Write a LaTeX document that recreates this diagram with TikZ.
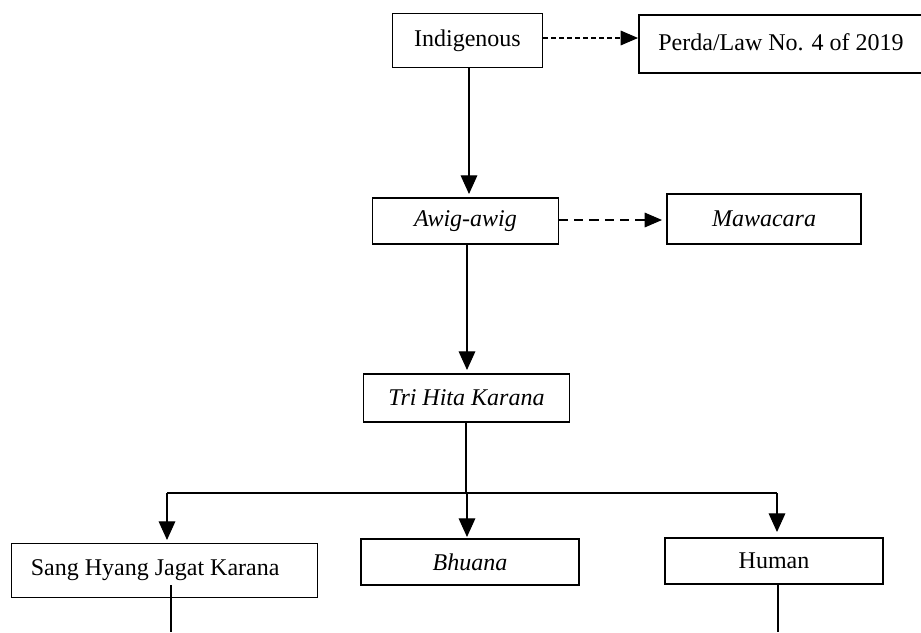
\documentclass[tikz,border=0pt]{standalone}
\usepackage{fontspec}
\setmainfont{Liberation Serif}
\usetikzlibrary{arrows.meta}
\begin{document}
\begin{tikzpicture}[x=0.75pt,y=-0.75pt,
  box/.style={draw=black, line width=0.9pt, inner sep=0pt, font=\fontsize{18pt}{21pt}\selectfont},
  arr/.style={line width=0.8pt, -{Triangle[length=14pt,width=12.5pt]}},
  darr/.style={line width=0.8pt, dash pattern=on 3.5pt off 2.5pt, -{Triangle[length=13pt,width=11pt]}},
  ldarr/.style={line width=0.8pt, dash pattern=on 7pt off 4.5pt, -{Triangle[length=13pt,width=11pt]}},
  ln/.style={line width=0.8pt}]
\useasboundingbox (0,0) rectangle (921,632);
% boxes
\node[box, minimum width=113pt, minimum height=41pt] (ind) at (467.5,40.5) {Indigenous};
\node[box, minimum width=213pt, minimum height=43.5pt] (perda) at (781,44) {\raisebox{3pt}{Perda/Law No. 4 of 2019}};
\node[box, minimum width=139pt, minimum height=34.5pt] (awig) at (465.5,221) {\raisebox{-3pt}{\itshape Awig-awig}};
\node[box, minimum width=145.5pt, minimum height=37.5pt] (mawa) at (764,219) {\itshape Mawacara};
\node[box, minimum width=155pt, minimum height=36pt] (tri) at (466.5,398) {\raisebox{-1pt}{\itshape Tri Hita Karana}};
\node[box, minimum width=230pt, minimum height=41pt] (shj) at (164.5,570.5) {\hspace*{-14pt}Sang Hyang Jagat Karana};
\node[box, minimum width=163.5pt, minimum height=34.5pt] (bhu) at (470,562) {\itshape Bhuana};
\node[box, minimum width=163.5pt, minimum height=34.5pt] (hum) at (774,561) {Human};
% coordinates
\coordinate (t1) at (469,194);
\coordinate (t2) at (467,370);
\coordinate (j) at (466,493);
\coordinate (jl) at (167,493);
\coordinate (jm) at (467,493);
\coordinate (jr) at (777,493);
\coordinate (tl) at (167,540);
\coordinate (tm) at (467,537);
\coordinate (tr) at (777,532);
\coordinate (s1) at (171,585);
\coordinate (s2) at (171,632);
\coordinate (h2) at (778,632);
% connectors
\draw[darr] (ind.east |- 0,38) -- (638,38) coordinate (pt);
\draw[ldarr] (awig.east |- 0,220) -- (662,220) coordinate (mt);
\draw[arr] (ind.south -| t1) -- (t1);
\draw[arr] (awig.south -| t2) -- (t2);
\draw[ln] (tri.south -| j) -- (j);
\draw[ln] (jl) -- (jr);
\draw[arr] (jl) -- (tl);
\draw[arr] (jm) -- (tm);
\draw[arr] (jr) -- (tr);
\draw[ln] (s1) -- (s2);
\draw[ln] (hum.south -| h2) -- (h2);
\end{tikzpicture}
\end{document}
